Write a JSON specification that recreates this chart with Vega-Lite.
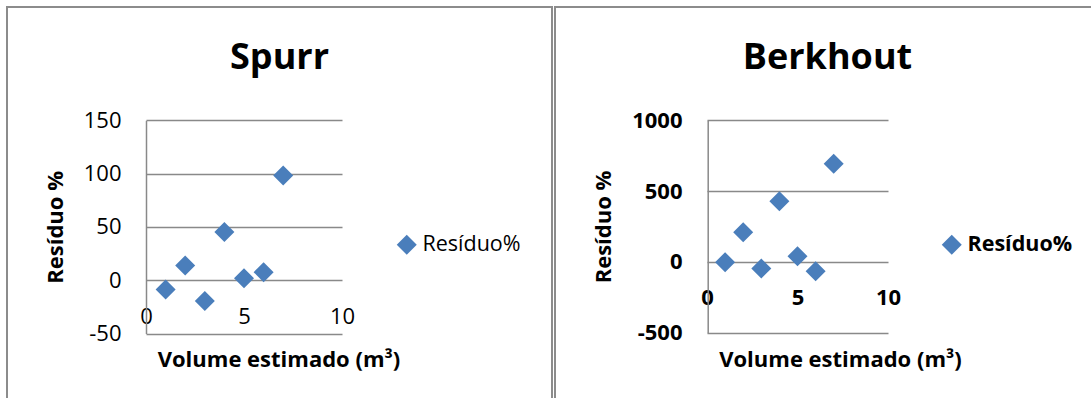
{
  "$schema": "https://vega.github.io/schema/vega-lite/v6.json",
  "padding": {"left": 6, "top": 6, "right": 0, "bottom": 0},
  "background": "white",
  "spacing": 3,
  "bounds": "flush",
  "resolve": {"scale": {"color": "independent"}, "legend": {"color": "independent"}},
  "config": {
    "font": "Open Sans",
    "view": {"stroke": "#8c8c8c", "strokeWidth": 2},
    "axis": {
      "labelFont": "Open Sans", "titleFont": "Open Sans",
      "labelColor": "#000000", "titleColor": "#000000",
      "labelFontSize": 22, "titleFontSize": 22,
      "ticks": false, "tickSize": 0,
      "labelFlush": false, "labelOverlap": false,
      "labelExpr": "toString(datum.value)",
      "gridColor": "#898989", "gridWidth": 1.5, "gridOpacity": 1,
      "domainColor": "#898989", "domainWidth": 1.5
    },
    "legend": {"labelFont": "Open Sans", "labelColor": "#000000"}
  },
  "datasets": {
    "residuos": [
      {"modelo": "Spurr", "serie": "Resíduo%", "volume": 1, "residuo": -8.7},
      {"modelo": "Spurr", "serie": "Resíduo%", "volume": 2, "residuo": 13.8},
      {"modelo": "Spurr", "serie": "Resíduo%", "volume": 3, "residuo": -19.4},
      {"modelo": "Spurr", "serie": "Resíduo%", "volume": 4, "residuo": 45.3},
      {"modelo": "Spurr", "serie": "Resíduo%", "volume": 5, "residuo": 1.9},
      {"modelo": "Spurr", "serie": "Resíduo%", "volume": 6, "residuo": 7.5},
      {"modelo": "Spurr", "serie": "Resíduo%", "volume": 7, "residuo": 98.2},
      {"modelo": "Berkhout", "serie": "Resíduo%", "volume": 1, "residuo": -2},
      {"modelo": "Berkhout", "serie": "Resíduo%", "volume": 2, "residuo": 210},
      {"modelo": "Berkhout", "serie": "Resíduo%", "volume": 3, "residuo": -47},
      {"modelo": "Berkhout", "serie": "Resíduo%", "volume": 4, "residuo": 429},
      {"modelo": "Berkhout", "serie": "Resíduo%", "volume": 5, "residuo": 40},
      {"modelo": "Berkhout", "serie": "Resíduo%", "volume": 6, "residuo": -66},
      {"modelo": "Berkhout", "serie": "Resíduo%", "volume": 7, "residuo": 693}
    ]
  },
  "hconcat": [
    {
      "width": 545, "height": 400,
      "title": {"text": "Spurr", "fontSize": 36, "fontWeight": "bold", "font": "Open Sans", "color": "#000000", "anchor": "middle", "frame": "group", "baseline": "alphabetic", "offset": -98},
      "data": {"name": "residuos"},
      "transform": [{"filter": "datum.modelo === 'Spurr'"}],
      "mark": {"type": "point", "shape": "diamond", "filled": true, "size": 400, "opacity": 1},
      "encoding": {
        "x": {
          "field": "volume", "type": "quantitative",
          "scale": {"domain": [0, 10], "range": [139, 335], "nice": false, "zero": false},
          "axis": {"title": "Volume estimado (m³)", "titleFontWeight": "bold", "values": [0, 5, 10], "grid": false, "domain": false, "offset": -127, "labelPadding": 26, "titleX": 271.5, "titleY": 86, "titleBaseline": "alphabetic", "titleAlign": "center"}
        },
        "y": {
          "field": "residuo", "type": "quantitative",
          "scale": {"domain": [-50, 150], "range": [326.5, 113.3], "nice": false, "zero": false},
          "axis": {"title": "Resíduo %", "titleFontWeight": "bold", "values": [-50, 0, 50, 100, 150], "grid": true, "domain": true, "offset": -139, "labelPadding": 25, "titleX": -84, "titleBaseline": "alphabetic"}
        },
        "color": {
          "field": "serie", "type": "nominal",
          "scale": {"range": ["#4a7ebb"]},
          "legend": {"title": null, "orient": "none", "legendX": 389, "legendY": 227, "symbolType": "diamond", "symbolSize": 400, "symbolStrokeWidth": 0, "symbolOpacity": 1, "labelFontSize": 21.5, "labelFontWeight": "normal", "labelOffset": 5}
        }
      }
    },
    {
      "width": 545, "height": 400,
      "title": {"text": "Berkhout", "fontSize": 36, "fontWeight": "bold", "font": "Open Sans", "color": "#000000", "anchor": "middle", "frame": "group", "baseline": "alphabetic", "offset": -98},
      "data": {"name": "residuos"},
      "transform": [{"filter": "datum.modelo === 'Berkhout'"}],
      "mark": {"type": "point", "shape": "diamond", "filled": true, "size": 400, "opacity": 1},
      "encoding": {
        "x": {
          "field": "volume", "type": "quantitative",
          "scale": {"domain": [0, 10], "range": [152, 333], "nice": false, "zero": false},
          "axis": {"title": "Volume estimado (m³)", "titleFontWeight": "bold", "labelFontWeight": "bold", "values": [0, 5, 10], "grid": false, "domain": false, "offset": -145.3, "labelPadding": 25.5, "titleX": 285, "titleY": 104.3, "titleBaseline": "alphabetic", "titleAlign": "center"}
        },
        "y": {
          "field": "residuo", "type": "quantitative",
          "scale": {"domain": [-500, 1000], "range": [325.7, 113.3], "nice": false, "zero": false},
          "axis": {"title": "Resíduo %", "titleFontWeight": "bold", "labelFontWeight": "bold", "values": [-500, 0, 500, 1000], "grid": true, "domain": true, "offset": -152.7, "labelPadding": 25.7, "titleX": -97.7, "titleBaseline": "alphabetic"}
        },
        "color": {
          "field": "serie", "type": "nominal",
          "scale": {"range": ["#4a7ebb"]},
          "legend": {"title": null, "orient": "none", "legendX": 386, "legendY": 227, "symbolType": "diamond", "symbolSize": 400, "symbolStrokeWidth": 0, "symbolOpacity": 1, "labelFontSize": 21.5, "labelFontWeight": "bold", "labelOffset": 5}
        }
      }
    }
  ]
}
